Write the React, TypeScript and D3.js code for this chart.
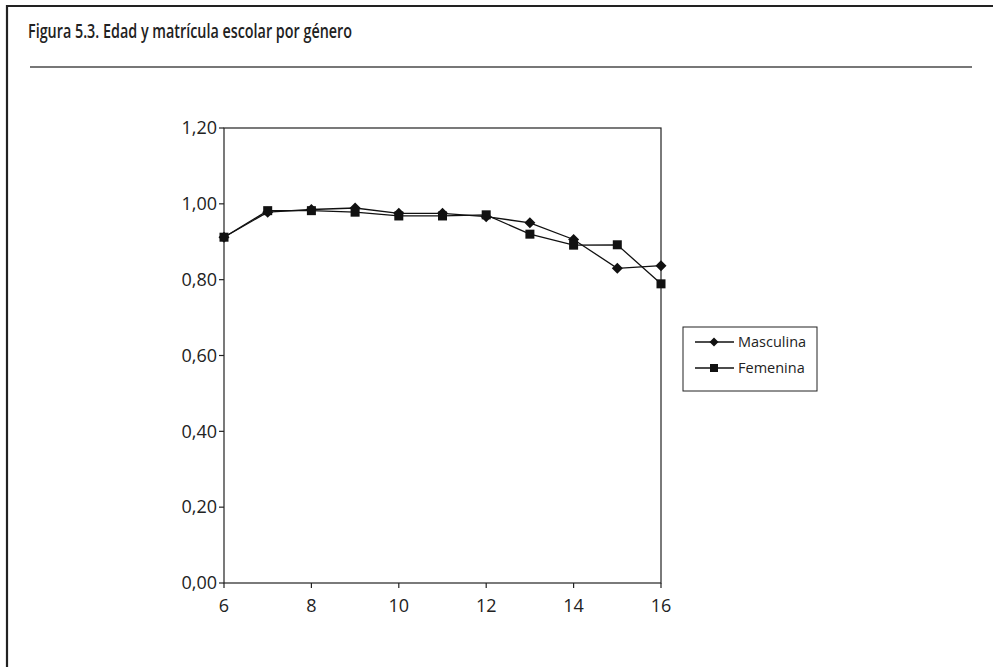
import React from "react";
import * as d3 from "d3";

const ages = [6, 7, 8, 9, 10, 11, 12, 13, 14, 15, 16];
const masculina = [0.912, 0.978, 0.985, 0.989, 0.975, 0.975, 0.966, 0.95, 0.906, 0.83, 0.837];
const femenina = [0.912, 0.982, 0.982, 0.978, 0.968, 0.968, 0.971, 0.92, 0.891, 0.892, 0.789];
const xTicks = [6, 8, 10, 12, 14, 16];
const yTicks = [0, 0.2, 0.4, 0.6, 0.8, 1.0, 1.2];
const seriesNames = ["Masculina", "Femenina"];
const title = "Figura 5.3. Edad y matrícula escolar por género";

export default function App() {
  const W = 993, H = 667;
  const left = 224, right = 661, top = 128, bottom = 583;
  const x = d3.scaleLinear().domain([6, 16]).range([left, right]);
  const y = d3.scaleLinear().domain([0, 1.2]).range([bottom, top]);
  const line = d3.line<number>().x((_, i) => x(ages[i])).y((d) => y(d));
  const fmt = (v: number) => v.toFixed(2).replace(".", ",");
  const font = "'Open Sans', 'Noto Sans', sans-serif";
  const diamond = (cx: number, cy: number, r = 5.5) =>
    `M${cx},${cy - r}L${cx + r},${cy}L${cx},${cy + r}L${cx - r},${cy}Z`;
  const sq = 4.5;

  return (
    <svg width={W} height={H} style={{ position: "absolute", left: 0, top: 0, background: "#fff" }}>
      <rect x={0} y={0} width={W} height={H} fill="#fff" />
      {/* frame */}
      <line x1={7} y1={6} x2={W} y2={6} stroke="#222" strokeWidth={2.2} />
      <line x1={7} y1={5} x2={7} y2={H} stroke="#222" strokeWidth={2.2} />
      <line x1={30} y1={67} x2={972} y2={67} stroke="#777" strokeWidth={1.8} />
      <text
        x={28}
        y={38}
        fontFamily="'Open Sans', sans-serif"
        fontWeight={600}
        fontSize={19}
        fill="#222"
        textLength={324}
        lengthAdjust="spacingAndGlyphs"
      >
        {title}
      </text>

      {/* plot box */}
      <rect x={left} y={top} width={right - left} height={bottom - top} fill="none" stroke="#222" strokeWidth={1.2} />

      {/* y ticks */}
      {yTicks.map((t) => (
        <g key={"y" + t}>
          <line x1={left - 5} x2={left} y1={y(t)} y2={y(t)} stroke="#222" strokeWidth={1.2} />
          <text x={left - 7} y={y(t)} dy="0.35em" textAnchor="end" fontFamily={font} fontSize={18} fill="#222">
            {fmt(t)}
          </text>
        </g>
      ))}
      {/* x ticks */}
      {xTicks.map((t) => (
        <g key={"x" + t}>
          <line x1={x(t)} x2={x(t)} y1={bottom} y2={bottom + 5} stroke="#222" strokeWidth={1.2} />
          <text x={x(t)} y={612} textAnchor="middle" fontFamily={font} fontSize={18} fill="#222">
            {t}
          </text>
        </g>
      ))}

      {/* series */}
      <path d={line(femenina) || ""} fill="none" stroke="#111" strokeWidth={1.3} />
      <path d={line(masculina) || ""} fill="none" stroke="#111" strokeWidth={1.3} />
      {masculina.map((v, i) => (
        <path key={"m" + i} d={diamond(x(ages[i]), y(v))} fill="#111" />
      ))}
      {femenina.map((v, i) => (
        <rect key={"f" + i} x={x(ages[i]) - sq} y={y(v) - sq} width={sq * 2} height={sq * 2} fill="#111" />
      ))}

      {/* legend */}
      <rect x={683} y={327} width={134} height={64} fill="#fff" stroke="#222" strokeWidth={1} />
      {seriesNames.map((name, i) => {
        const ly = 342 + i * 26;
        return (
          <g key={name}>
            <line x1={695} x2={734} y1={ly} y2={ly} stroke="#111" strokeWidth={1.3} />
            {i === 0 ? (
              <path d={diamond(714, ly, 4.5)} fill="#111" />
            ) : (
              <rect x={710} y={ly - 4} width={8} height={8} fill="#111" />
            )}
            <text x={738} y={ly} dy="0.35em" fontFamily={font} fontSize={14.5} fill="#222">
              {name}
            </text>
          </g>
        );
      })}
    </svg>
  );
}
